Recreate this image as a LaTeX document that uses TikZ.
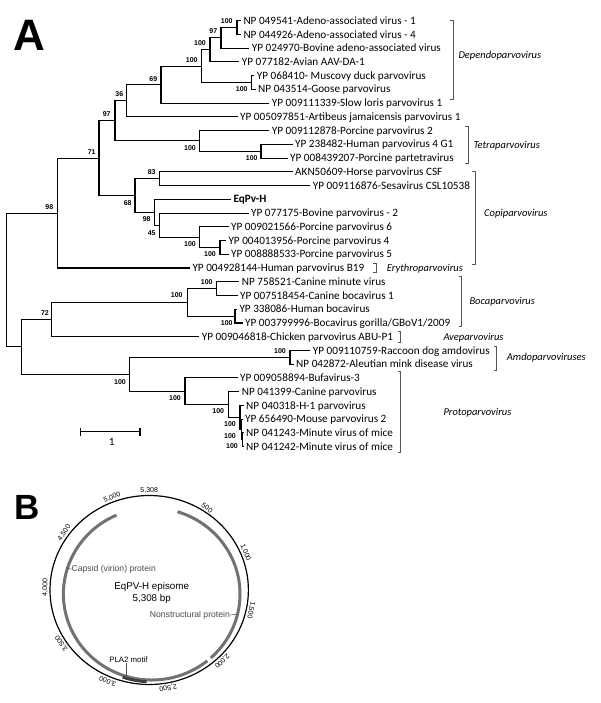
\documentclass[tikz,border=0pt]{standalone}
\usepackage{fontspec}
\setmainfont{Carlito}
\newfontfamily\arialf{Liberation Sans}
\newcommand\leaffont{\fontsize{11.2}{13}\selectfont}
\newcommand\leafboldfont{\fontsize{11.2}{13}\selectfont\bfseries}
\newcommand\bsfont{\arialf\bfseries\fontsize{7}{8}\selectfont}
\newcommand\cladefont{\fontsize{10.5}{12}\selectfont\itshape}
\newcommand\tickfont{\arialf\fontsize{7}{8}\selectfont}
\newcommand\genefont{\arialf\fontsize{8.6}{10}\selectfont}
\newcommand\titlefont{\arialf\fontsize{9.8}{12}\selectfont}
\definecolor{genegray}{HTML}{727272}
\definecolor{brkgray}{HTML}{555555}
\definecolor{labgray}{HTML}{4A4A4A}
\tikzset{
  br/.style={line width=1.1pt},
  leaf/.style={anchor=west, font=\leaffont, inner xsep=2.5pt, inner ysep=0pt, text height=7.2pt, text depth=0pt},
  bs/.style={font=\bsfont, inner sep=0pt},
  clade/.style={anchor=west, font=\cladefont, inner sep=0pt, text height=7pt, text depth=0pt},
  brk/.style={draw=brkgray, line width=0.7pt},
  gene/.style={draw=genegray, line width=3pt},
  pla/.style={draw=black!75, line width=3pt},
  ticklab/.style={font=\tickfont, inner sep=0.5pt, anchor=south},
  genelab/.style={font=\genefont, text=labgray, inner sep=0pt},
}
\begin{document}
\begin{tikzpicture}[x=1pt,y=-1pt]
\useasboundingbox (0,0) rectangle (600,703);
\fill[white] (0,0) rectangle (600,703);

% ---------------- Panel A ----------------
\node[font=\arialf\bfseries\fontsize{44}{46}\selectfont, inner sep=0pt] (letA) at (29,35.5) {A};

% leaves
\node[leaf] (l1) at (240.8,20.70) {NP 049541-Adeno-associated virus - 1};
\node[leaf] (l2) at (240.8,34.44) {NP 044926-Adeno-associated virus - 4};
\node[leaf] (l3) at (249.2,48.18) {YP 024970-Bovine adeno-associated virus};
\node[leaf] (l4) at (239.2,61.92) {YP 077182-Avian AAV-DA-1};
\node[leaf] (l5) at (254.2,75.66) {YP 068410- Muscovy duck parvovirus};
\node[leaf] (l6) at (255.5,89.40) {NP 043514-Goose parvovirus};
\node[leaf] (l7) at (269.2,103.14) {YP 009111339-Slow loris parvovirus 1};
\node[leaf] (l8) at (237.5,116.88) {YP 005097851-Artibeus jamaicensis parvovirus 1};
\node[leaf] (l9) at (269.2,130.62) {YP 009112878-Porcine parvovirus 2};
\node[leaf] (l10) at (292.5,144.36) {YP 238482-Human parvovirus 4 G1};
\node[leaf] (l11) at (287.5,158.10) {YP 008439207-Porcine partetravirus};
\node[leaf] (l12) at (292.5,171.84) {AKN50609-Horse parvovirus CSF};
\node[leaf] (l13) at (310.2,185.58) {YP 009116876-Sesavirus CSL10538};
\node[leaf, font=\leafboldfont] (l14) at (230.8,199.32) {EqPv-H};
\node[leaf] (l15) at (248.5,213.06) {YP 077175-Bovine parvovirus - 2};
\node[leaf] (l16) at (228.5,226.80) {YP 009021566-Porcine parvovirus 6};
\node[leaf] (l17) at (225.8,240.54) {YP 004013956-Porcine parvovirus 4};
\node[leaf] (l18) at (228.5,254.28) {YP 008888533-Porcine parvovirus 5};
\node[leaf] (l19) at (189.8,268.02) {YP 004928144-Human parvovirus B19};
\node[leaf] (l20) at (239.2,281.76) {NP 758521-Canine minute virus};
\node[leaf] (l21) at (237.5,295.50) {YP 007518454-Canine bocavirus 1};
\node[leaf] (l22) at (236.8,309.24) {YP 338086-Human bocavirus};
\node[leaf] (l23) at (242.5,322.98) {YP 003799996-Bocavirus gorilla/GBoV1/2009};
\node[leaf] (l24) at (199.2,336.72) {YP 009046818-Chicken parvovirus ABU-P1};
\node[leaf] (l25) at (310.2,350.46) {YP 009110759-Raccoon dog amdovirus};
\node[leaf] (l26) at (293.5,364.20) {NP 042872-Aleutian mink disease virus};
\node[leaf] (l27) at (237.5,377.94) {YP 009058894-Bufavirus-3};
\node[leaf] (l28) at (239.2,391.68) {NP 041399-Canine parvovirus};
\node[leaf] (l29) at (243.5,405.42) {NP 040318-H-1 parvovirus};
\node[leaf] (l30) at (242.5,419.16) {YP 656490-Mouse parvovirus 2};
\node[leaf] (l31) at (243.5,432.90) {NP 041243-Minute virus of mice};
\node[leaf] (l32) at (243.5,446.64) {NP 041242-Minute virus of mice};

% internal nodes
\coordinate (n12) at (237,27.57);
\coordinate (n123) at (221,37.88);
\coordinate (n1234) at (210,49.90);
\coordinate (n56) at (251.7,82.53);
\coordinate (nDep) at (201.7,66.22);
\coordinate (n69) at (161,84.68);
\coordinate (n36) at (126.7,100.78);
\coordinate (n1011) at (261,151.23);
\coordinate (nTet) at (199.3,140.93);
\coordinate (n97) at (115,120.85);
\coordinate (n83) at (159.3,178.71);
\coordinate (n45b) at (220,247.41);
\coordinate (n100) at (199.3,237.1);
\coordinate (n45) at (159.3,225.08);
\coordinate (nEq) at (154.3,212.2);
\coordinate (n68) at (135,195.46);
\coordinate (n71) at (99,158.15);
\coordinate (n98) at (57.7,213.08);
\coordinate (n2021) at (216.7,288.63);
\coordinate (n2223) at (235,316.11);
\coordinate (nBoca) at (187.7,302.37);
\coordinate (n72) at (51.7,319.55);
\coordinate (nAmdo) at (290,357.33);
\coordinate (n3132) at (242.5,439.77);
\coordinate (n30) at (241.3,429.47);
\coordinate (n29) at (240,417.44);
\coordinate (n28) at (228.3,404.56);
\coordinate (nPro) at (185,391.25);
\coordinate (nAP) at (129.3,374.29);
\coordinate (nLow) at (21.7,346.92);
\coordinate (root) at (6.7,280);

% branches
\draw[br] (l1.west) -| (n12) |- (l2.west);
\draw[br] (n12) -| (n123) |- (l3.west);
\draw[br] (n123) -| (n1234) |- (l4.west);
\draw[br] (l5.west) -| (n56) |- (l6.west);
\draw[br] (n1234) -| (nDep) |- (n56);
\draw[br] (nDep) -| (n69) |- (l7.west);
\draw[br] (n69) -| (n36) |- (l8.west);
\draw[br] (l10.west) -| (n1011) |- (l11.west);
\draw[br] (l9.west) -| (nTet) |- (n1011);
\draw[br] (n36) -| (n97) |- (nTet);
\draw[br] (l12.west) -| (n83) |- (l13.west);
\draw[br] (l17.west) -| (n45b) |- (l18.west);
\draw[br] (l16.west) -| (n100) |- (n45b);
\draw[br] (l15.west) -| (n45) |- (n100);
\draw[br] (l14.west) -| (nEq) |- (n45);
\draw[br] (n83) -| (n68) |- (nEq);
\draw[br] (n97) -| (n71) |- (n68);
\draw[br] (n71) -| (n98) |- (l19.west);
\draw[br] (l20.west) -| (n2021) |- (l21.west);
\draw[br] (l22.west) -| (n2223) |- (l23.west);
\draw[br] (n2021) -| (nBoca) |- (n2223);
\draw[br] (nBoca) -| (n72) |- (l24.west);
\draw[br] (l25.west) -| (nAmdo) |- (l26.west);
\draw[br] (l31.west) -| (n3132) |- (l32.west);
\draw[br] (l30.west) -| (n30) |- (n3132);
\draw[br] (l29.west) -| (n29) |- (n30);
\draw[br] (l28.west) -| (n28) |- (n29);
\draw[br] (l27.west) -| (nPro) |- (n28);
\draw[br] (nAmdo) -| (nAP) |- (nPro);
\draw[br] (n72) -| (nLow) |- (nAP);
\draw[br] (n98) -| (root) |- (nLow);

% bootstrap values
\node[bs] (b12) at (226.7,21) {100};
\node[bs] (b123) at (213.3,31.5) {97};
\node[bs] (b1234) at (200,43.5) {100};
\node[bs] (bDep) at (191.7,60) {100};
\node[bs] (b69) at (153.3,79) {69};
\node[bs] (b36) at (119.3,94.5) {36};
\node[bs] (b97) at (106.7,114.5) {97};
\node[bs] (b71) at (91.7,151.7) {71};
\node[bs] (b98) at (49.3,206.7) {98};
\node[bs] (b56) at (241.7,89.3) {100};
\node[bs] (bTet) at (190,147.7) {100};
\node[bs] (b1011) at (251.7,158.3) {100};
\node[bs] (b83) at (151.7,172.3) {83};
\node[bs] (b68) at (127.7,203.3) {68};
\node[bs] (bEq) at (146.7,219.3) {98};
\node[bs] (b45) at (151.7,232.7) {45};
\node[bs] (b100) at (190,244.3) {100};
\node[bs] (b45b) at (210,254.3) {100};
\node[bs] (b72) at (45,313.3) {72};
\node[bs] (bBoca) at (176.7,295.5) {100};
\node[bs] (b2021) at (206.7,282.3) {100};
\node[bs] (b2223) at (226.7,323.3) {100};
\node[bs] (bAP) at (120,381.7) {100};
\node[bs] (bAmdo) at (280,350.7) {100};
\node[bs] (bPro) at (175,398.3) {100};
\node[bs] (b28) at (218.3,411.3) {100};
\node[bs] (b29) at (230,424.5) {100};
\node[bs] (b30) at (230,436.5) {100};
\node[bs] (b3132) at (232,445.8) {100};

% clade brackets
\draw[brk] (450.3,20.7) -- (453.3,20.7) -- (453.3,99.5) -- (450.3,99.5);
\node[clade] (cDep) at (458.3,55) {Dependoparvovirus};
\draw[brk] (465.3,126) -- (468.3,126) -- (468.3,163.5) -- (465.3,163.5);
\node[clade] (cTet) at (473.3,145) {Tetraparvovirus};
\draw[brk] (472,171.7) -- (475,171.7) -- (475,264) -- (472,264);
\node[clade] (cCop) at (484,213.3) {Copiparvovirus};
\draw[brk] (373,263.5) -- (376,263.5) -- (376,272) -- (373,272);
\node[clade] (cEry) at (386.7,267.7) {Erythroparvovirus};
\draw[brk] (458.7,276.7) -- (461.7,276.7) -- (461.7,326) -- (458.7,326);
\node[clade] (cBoc) at (469.3,301) {Bocaparvovirus};
\draw[brk] (397.7,331.5) -- (400.7,331.5) -- (400.7,342) -- (397.7,342);
\node[clade] (cAve) at (443.3,336.7) {Aveparvovirus};
\draw[brk] (493.7,346.7) -- (496.7,346.7) -- (496.7,370.7) -- (493.7,370.7);
\node[clade] (cAmd) at (506.7,356.7) {Amdoparvoviruses};
\draw[brk] (397.7,371.7) -- (400.7,371.7) -- (400.7,452.5) -- (397.7,452.5);
\node[clade] (cPro) at (443.3,412.3) {Protoparvovirus};

% scale bar
\coordinate (s1) at (80.7,431.7);
\coordinate (s2) at (140,431.7);
\draw[br] (s1) -- (s2);
\draw[br] ([yshift=-4.2pt]s1) -- ([yshift=4.2pt]s1);
\draw[br] ([yshift=-4.2pt]s2) -- ([yshift=4.2pt]s2);
\node[font=\leaffont, inner sep=0pt] (sl) at (111.7,441.5) {1};

% ---------------- Panel B ----------------
\node[font=\arialf\bfseries\fontsize{35}{37}\selectfont, inner sep=0pt] (letB) at (27.5,507.5) {B};

\def\cxo{149.2}\def\cyo{590}\def\rxo{99.2}\def\ryo{94.5}
\def\cxi{151.7}\def\cyi{594}\def\rxi{88.3}\def\ryi{86}

\draw[line width=1.2pt] (\cxo,\cyo) ellipse [x radius=\rxo, y radius=\ryo];

% gene tracks
\draw[gene] plot[domain=72.98:-48, samples=90] ({\cxi+\rxi*cos(\x)},{\cyi-\ryi*sin(\x)});
\draw[gene] plot[domain=-51:-246.5, samples=160] ({\cxi+\rxi*cos(\x)},{\cyi-\ryi*sin(\x)});
\draw[pla] plot[domain=-93.25:-108.8, samples=20] ({\cxi+(\rxi+1.8)*cos(\x)},{\cyi-(\ryi+1.8)*sin(\x)});

% position labels
\foreach \bp/\lab in {0/{5,308},500/500,1000/{1,000},1500/{1,500},2000/{2,000},2500/{2,500},3000/{3,000},3500/{3,500},4000/{4,000},4500/{4,500},5000/{5,000}}{
  \pgfmathsetmacro\th{90-(\bp/5308)*360}
  \pgfmathsetmacro\rot{\th-90}
  \node[ticklab, rotate=\rot] (t\bp) at ({\cxo+(\rxo+1.2)*cos(\th)},{\cyo-(\ryo+1.2)*sin(\th)}) {\lab};
}

% centre title
\node[font=\titlefont, inner sep=0pt] (ttl1) at (151.7,586.7) {EqPV-H episome};
\node[font=\titlefont, inner sep=0pt] (ttl2) at (151.7,598.5) {5,308 bp};

% gene labels
\node[genelab, anchor=west] (cap) at (71.5,569.3) {Capsid (virion) protein};
\coordinate (capTip) at (66.5,567.8);
\draw[labgray, line width=0.5pt] (capTip) -- (cap.west);
\node[genelab, anchor=east] (ns) at (230,615) {Nonstructural protein};
\coordinate (nsTip) at (236.3,614.2);
\draw[labgray, line width=0.5pt] (ns.east) -- (nsTip);
\node[font=\arialf\fontsize{7.8}{9}\selectfont, inner sep=0pt] (pla) at (128.5,659.5) {PLA2 motif};
\coordinate (plaTip) at (126.7,678);
\draw[black!70, line width=0.6pt] (pla.south -| plaTip) -- (plaTip);
\end{tikzpicture}
\end{document}
